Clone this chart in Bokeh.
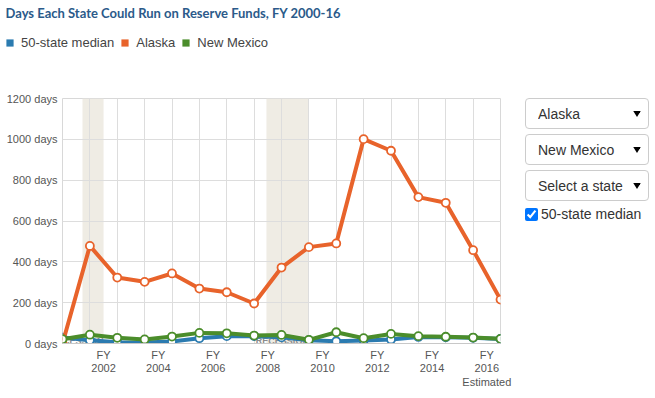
from bokeh.plotting import figure
from bokeh.models import (Range1d, FixedTicker, PrintfTickFormatter, BoxAnnotation,
                          Legend, LegendItem, Select, CheckboxGroup, Spacer, ColumnDataSource,
                          InlineStyleSheet)
from bokeh.layouts import row, column
from bokeh.embed import file_html
from bokeh.resources import INLINE

years = list(range(2000, 2017))
median = [29, 16, 6, 5, 10, 26, 36, 36, 30, 16, 11, 15, 20, 32, 30, 28, 22]
alaska = [0, 478, 323, 302, 343, 269, 251, 196, 372, 472, 490, 1001, 944, 717, 689, 457, 215]
new_mexico = [21, 43, 28, 20, 34, 52, 50, 39, 42, 18, 55, 26, 47, 36, 33, 29, 23]
series_names = ["50-state median", "Alaska", "New Mexico"]

tick_years = [2002, 2004, 2006, 2008, 2010, 2012, 2014, 2016]
tick_labels = ["FY\n2002", "FY\n2004", "FY\n2006", "FY\n2008", "FY\n2010", "FY\n2012",
               "FY\n2014", "FY\n2016\nEstimated"]
recessions = [(2000.73, 2001.5), (2007.45, 2009.0)]
recession_label = "RECESSION"

c_median = "#2b7bb0"
c_alaska = "#e8632b"
c_nm = "#4b8d2b"
colors = [c_median, c_alaska, c_nm]

HEADER_H = 60

# ---------- header (title + legend) ----------
h = figure(width=640, height=HEADER_H, x_range=Range1d(0, 1), y_range=Range1d(0, 1),
           output_backend="svg", toolbar_location=None,
           min_border_left=5, min_border_right=0, min_border_top=1, min_border_bottom=0)
h.axis.visible = False
h.grid.visible = False
h.outline_line_color = None
h.title.text = "Days Each State Could Run on Reserve Funds, FY 2000-16"
h.title.text_font = "Lato"
h.title.text_font_style = "bold"
h.title.text_font_size = "13px"
h.title.text_color = "#2b5a8a"
h.title.standoff = 4
items = []
for name, col in zip(series_names, colors):
    r = h.quad(left=[-5], right=[-4], bottom=[-5], top=[-4], fill_color=col, line_color=None)
    items.append(LegendItem(label=name, renderers=[r]))
legend = Legend(items=items, orientation="horizontal", location=(0, 10),
                border_line_color=None, background_fill_alpha=0,
                label_text_font_size="13px", label_text_color="#444444",
                glyph_width=9, glyph_height=9, label_standoff=7, spacing=6,
                padding=0, margin=0)
h.add_layout(legend)

# ---------- main chart ----------
p = figure(width=520, height=398 - HEADER_H, x_range=Range1d(2000, 2016), y_range=Range1d(0, 1200),
           output_backend="svg", toolbar_location=None,
           min_border_left=62, min_border_right=20, min_border_bottom=55, min_border_top=38)
p.background_fill_color = "white"
p.border_fill_color = "white"
p.outline_line_color = "#d8d8d8"

for (a, b) in recessions:
    p.add_layout(BoxAnnotation(left=a, right=b, fill_color="#efece4", fill_alpha=1,
                               line_color=None, level="image"))

p.text(x=[b for a, b in recessions], y=[10, 10], text=[recession_label] * 2,
       text_align="right", text_baseline="middle", text_font_size="9px",
       text_font_style="bold", text_color="#8a8a8a")

p.xaxis.ticker = FixedTicker(ticks=[y - 0.5 for y in tick_years])
p.xaxis.major_label_overrides = {y - 0.5: lab for y, lab in zip(tick_years, tick_labels)}
p.xaxis.major_tick_line_color = None
p.xaxis.major_tick_out = 0
p.xaxis.major_tick_in = 0
p.xaxis.minor_tick_line_color = None
p.xaxis.minor_tick_out = 0
p.xaxis.axis_line_color = "#c8c8c8"
p.xaxis.major_label_text_font_size = "11px"
p.xaxis.major_label_text_color = "#555555"
p.xaxis.major_label_text_line_height = 1.15
p.xaxis.major_label_standoff = 5
p.xgrid.ticker = FixedTicker(ticks=years)
p.xgrid.grid_line_color = "#dddddd"

p.yaxis.ticker = FixedTicker(ticks=[0, 200, 400, 600, 800, 1000, 1200])
p.yaxis.formatter = PrintfTickFormatter(format="%d days")
p.yaxis.major_tick_line_color = None
p.yaxis.major_tick_out = 0
p.yaxis.major_tick_in = 0
p.yaxis.minor_tick_line_color = None
p.yaxis.minor_tick_out = 0
p.yaxis.axis_line_color = None
p.yaxis.major_label_text_font_size = "11px"
p.yaxis.major_label_text_color = "#555555"
p.yaxis.major_label_standoff = 5
p.ygrid.grid_line_color = "#dddddd"

for vals, col in zip([median, alaska, new_mexico], colors):
    src = ColumnDataSource(dict(x=years, y=vals))
    p.line("x", "y", source=src, line_color=col, line_width=4)
    p.scatter("x", "y", source=src, size=8, fill_color="white", line_color=col, line_width=1.8)

sel_css = InlineStyleSheet(css="select { font-size: 14px; color: #333; border-color: #ccc; }")
cb_css = InlineStyleSheet(css="label { font-size: 14px; color: #333; } input { margin-right: 10px; }")
sel_style = dict(width=124, height=26, stylesheets=[sel_css])
opts = ["Alaska", "New Mexico", "Select a state"]
s1 = Select(value="Alaska", options=opts, **sel_style)
s2 = Select(value="New Mexico", options=opts, **sel_style)
s3 = Select(value="Select a state", options=opts, **sel_style)
cb = CheckboxGroup(labels=["50-state median"], active=[0], stylesheets=[cb_css])
side = column(Spacer(height=33), s1, s2, s3, cb)

layout = column(h, row(p, side))
open("out.html", "w").write(file_html(layout, INLINE))
